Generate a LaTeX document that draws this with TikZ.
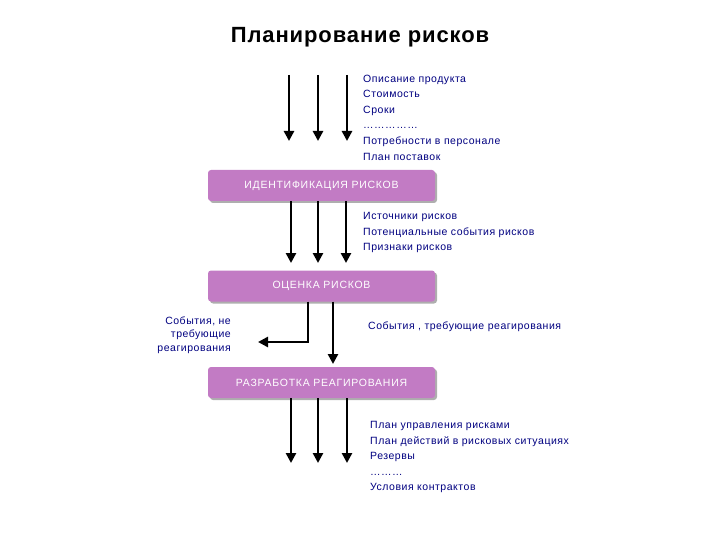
\documentclass[tikz,border=0pt]{standalone}
\usepackage{fontspec}
\setmainfont{Liberation Sans}
\newfontfamily\widefont[LetterSpace=5]{Liberation Sans}
\newfontfamily\boxfont[LetterSpace=7]{Liberation Sans}
\newfontfamily\titlefont[LetterSpace=4]{Liberation Sans}
\usetikzlibrary{arrows.meta,shadows}
\definecolor{boxfill}{HTML}{C27BC4}
\definecolor{listblue}{HTML}{000080}
\tikzset{
  stage/.style={draw=none, fill=boxfill, rounded corners=3pt, minimum width=227pt, minimum height=31pt,
    text=white, font=\boxfont\fontsize{10.5}{12}\selectfont, inner sep=0pt,
    drop shadow={shadow xshift=2pt, shadow yshift=-2pt, fill=black!45, opacity=0.7}},
  flow/.style={line width=2.6pt, -{Triangle[width=10pt,length=10pt]}},
  list/.style={anchor=north west, align=left, text=listblue, inner sep=0pt,
    font=\widefont\fontsize{10.5}{15.6}\selectfont},
  side/.style={text=listblue, inner sep=0pt, font=\widefont\fontsize{10.5}{13.5}\selectfont}
}
\begin{document}
\begin{tikzpicture}[x=1pt,y=-1pt]
\useasboundingbox (0,0) rectangle (720,540);
\node[font=\titlefont\bfseries\fontsize{22}{24}\selectfont, inner sep=0pt] (title) at (360,37) {Планирование рисков};

\node[stage] (ident) at (321.5,185.5) {ИДЕНТИФИКАЦИЯ РИСКОВ};
\node[stage] (assess) at (321.5,286) {ОЦЕНКА РИСКОВ};
\node[stage] (resp) at (321.5,382.5) {РАЗРАБОТКА РЕАГИРОВАНИЯ};

% top inputs
\coordinate (t1) at (289,75);
\coordinate (t2) at (318,75);
\coordinate (t3) at (347,75);
\coordinate (e1) at (289,141);
\coordinate (e2) at (318,141);
\coordinate (e3) at (347,141);
\draw[flow] (t1) -- (e1);
\draw[flow] (t2) -- (e2);
\draw[flow] (t3) -- (e3);
\node[list] (l1) at (363,74.5) {Описание продукта\\Стоимость\\Сроки\\……………\\Потребности в персонале\\План поставок};

% middle
\coordinate (m1) at (291,263);
\coordinate (m2) at (318,263);
\coordinate (m3) at (346,263);
\draw[flow] (ident.south -| m1) -- (m1);
\draw[flow] (ident.south -| m2) -- (m2);
\draw[flow] (ident.south -| m3) -- (m3);
\node[list] (l2) at (363,212) {Источники рисков\\Потенциальные события рисков\\Признаки рисков};

% assessment outputs
\coordinate (bend) at (308,342);
\coordinate (leftend) at (258,342);
\coordinate (down) at (333,364);
\draw[flow] (assess.south -| bend) -- (bend) -- (leftend);
\draw[flow] (assess.south -| down) -- (down);
\node[side, anchor=east, align=right] (lnr) at (231,335) {События, не\\требующие\\реагирования};
\node[side, anchor=west] (lr) at (368,327) {События , требующие реагирования};

% bottom outputs
\coordinate (b1) at (291,463);
\coordinate (b2) at (318,463);
\coordinate (b3) at (347,463);
\draw[flow] (resp.south -| b1) -- (b1);
\draw[flow] (resp.south -| b2) -- (b2);
\draw[flow] (resp.south -| b3) -- (b3);
\node[list] (l3) at (370,421) {План управления рисками\\План действий в рисковых ситуациях\\Резервы\\………\\Условия контрактов};
\end{tikzpicture}
\end{document}
